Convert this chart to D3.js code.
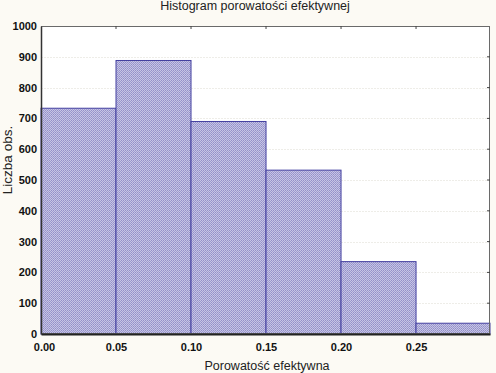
<!DOCTYPE html>
<html>
<head>
<meta charset="utf-8">
<script src="https://cdn.jsdelivr.net/npm/d3@7"></script>
<style>
  body { margin: 0; background: #fcfaf4; }
  svg { display: block; font-family: Arial, "Liberation Sans", sans-serif; }
</style>
</head>
<body>
<div id="chart"></div>
<script>
// Histogram bins (lower edge, upper edge) and counts
const binStarts = [0.00, 0.05, 0.10, 0.15, 0.20, 0.25];
const binEnds = [0.05, 0.10, 0.15, 0.20, 0.25, 0.30];
const counts = [733, 888, 690, 532, 235, 35];
const xTicks = [0.00, 0.05, 0.10, 0.15, 0.20, 0.25];
const yTicks = [0, 100, 200, 300, 400, 500, 600, 700, 800, 900, 1000];

const W = 496, H = 373;
const margin = { top: 26, right: 6, bottom: 39, left: 41 };
const width = W - margin.left - margin.right;
const height = H - margin.top - margin.bottom;

const svg = d3.select('#chart')
    .append('svg')
    .attr('width', W)
    .attr('height', H);

// hatched fill like the original screenshot
const defs = svg.append('defs');
const pat = defs.append('pattern')
    .attr('id', 'hatch')
    .attr('width', 2)
    .attr('height', 2)
    .attr('patternUnits', 'userSpaceOnUse');
pat.append('rect').attr('width', 2).attr('height', 2).attr('fill', '#c6c4e5');
pat.append('rect').attr('width', 1).attr('height', 1).attr('fill', '#9390c9');
pat.append('rect').attr('x', 1).attr('y', 1).attr('width', 1).attr('height', 1).attr('fill', '#9e9bcf');

const g = svg.append('g')
    .attr('transform', `translate(${margin.left},${margin.top})`);

const x = d3.scaleLinear().domain([0, 0.2993]).range([0, width]);
const y = d3.scaleLinear().domain([0, 1000]).range([height, 0]);

// plot background
g.append('rect')
    .attr('width', width)
    .attr('height', height)
    .attr('fill', '#ffffff');

// faint grid lines
g.append('g')
    .selectAll('line')
    .data(yTicks.slice(1, -1))
    .enter()
    .append('line')
    .attr('x1', 0)
    .attr('x2', width)
    .attr('y1', d => Math.round(y(d)) + 0.5)
    .attr('y2', d => Math.round(y(d)) + 0.5)
    .attr('stroke', '#eeede8')
    .attr('stroke-dasharray', '2,1');

// bars
const data = counts.map((c, i) => ({ x0: binStarts[i], x1: Math.min(binEnds[i], 0.2993), count: c }));
g.selectAll('.bar')
    .data(data)
    .enter()
    .append('rect')
    .attr('class', 'bar')
    .attr('x', d => x(d.x0))
    .attr('y', d => y(d.count))
    .attr('width', d => x(d.x1) - x(d.x0))
    .attr('height', d => height - y(d.count))
    .attr('fill', 'url(#hatch)')
    .attr('stroke', '#4440a0')
    .attr('stroke-width', 1);

// frame
g.append('rect')
    .attr('x', 0.5)
    .attr('y', 0.5)
    .attr('width', width - 1)
    .attr('height', height - 1)
    .attr('fill', 'none')
    .attr('stroke', '#6a6a6a')
    .attr('stroke-width', 1);

// axes
const xAxis = g.append('g')
    .attr('transform', `translate(0,${height})`)
    .call(d3.axisBottom(x).tickValues(xTicks).tickFormat(d3.format('.2f')).tickSize(0).tickPadding(9));
xAxis.select('.domain').attr('stroke', '#222').attr('stroke-width', 2);

const yAxis = g.append('g')
    .call(d3.axisLeft(y).tickValues(yTicks).tickFormat(d3.format('d')).tickSize(0).tickPadding(4));
yAxis.select('.domain').attr('stroke', '#333').attr('stroke-width', 1.5);

svg.selectAll('.tick text')
    .attr('fill', '#111')
    .style('font-size', '11px')
    .style('font-weight', 'bold');
xAxis.selectAll('.tick text').filter(d => d === 0).attr('dx', 3);

// inward tick marks on top and right edges
g.append('g')
    .selectAll('line')
    .data(xTicks.slice(1))
    .enter()
    .append('line')
    .attr('x1', d => x(d))
    .attr('x2', d => x(d))
    .attr('y1', 0)
    .attr('y2', 3)
    .attr('stroke', '#444');

g.append('g')
    .selectAll('line')
    .data(yTicks.slice(1, -1))
    .enter()
    .append('line')
    .attr('x1', width - 3)
    .attr('x2', width)
    .attr('y1', d => y(d))
    .attr('y2', d => y(d))
    .attr('stroke', '#444');

// titles
svg.append('text')
    .attr('x', 255)
    .attr('y', 10)
    .attr('text-anchor', 'middle')
    .attr('fill', '#222')
    .style('font-size', '12.5px')
    .text('Histogram porowatości efektywnej');

svg.append('text')
    .attr('x', 267)
    .attr('y', 370)
    .attr('text-anchor', 'middle')
    .attr('fill', '#222')
    .style('font-size', '12.5px')
    .text('Porowatość efektywna');

svg.append('text')
    .attr('transform', 'rotate(-90)')
    .attr('x', -160)
    .attr('y', 12)
    .attr('text-anchor', 'middle')
    .attr('fill', '#222')
    .style('font-size', '13.5px')
    .text('Liczba obs.');
</script>
</body>
</html>
